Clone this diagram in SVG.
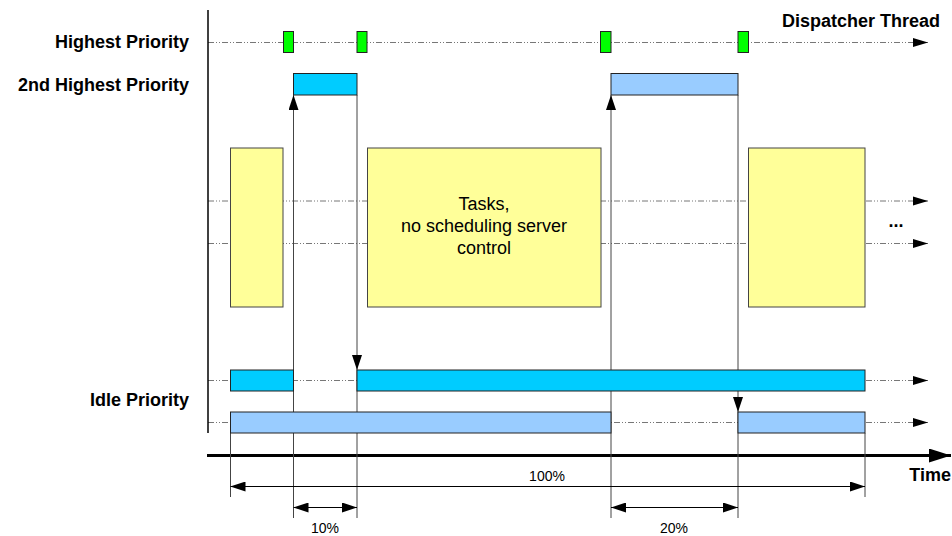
<svg xmlns="http://www.w3.org/2000/svg" width="952" height="536" viewBox="0 0 952 536">
<style>
.lbl{font-family:"Liberation Sans",Arial,sans-serif;font-weight:bold;font-size:18px;fill:#000}
.txt{font-family:"Liberation Sans",Arial,sans-serif;font-size:18px;fill:#000}
.pct{font-family:"Liberation Sans",Arial,sans-serif;font-size:14px;fill:#000}
.dd{stroke:#777;stroke-width:1;fill:none;stroke-dasharray:6,2,1,2,1,2}
.vl{stroke:#444;stroke-width:1;fill:none}
.dim{stroke:#000;stroke-width:1;fill:none}
.green{fill:#00FF00;stroke:#222;stroke-width:1}
.cyan{fill:#00CCFF;stroke:#222;stroke-width:1}
.lblue{fill:#99CCFF;stroke:#222;stroke-width:1}
.yel{fill:#FFFF99;stroke:#444;stroke-width:1}
</style>
<defs>
<marker id="ah" markerUnits="userSpaceOnUse" markerWidth="15" markerHeight="10" refX="15" refY="5" orient="auto-start-reverse"><path d="M0,0 L15,5 L0,10 z" fill="#000"/></marker>
<marker id="ahs" markerUnits="userSpaceOnUse" markerWidth="15" markerHeight="10" refX="15" refY="5" orient="auto-start-reverse"><path d="M0,0.5 L15,5 L0,9.5 z" fill="#000"/></marker>
<marker id="ahb" markerUnits="userSpaceOnUse" markerWidth="22" markerHeight="14" refX="22" refY="7" orient="auto"><path d="M0,0 L22,7 L0,14 z" fill="#000"/></marker>
</defs>

<g id="labels">
<text class="lbl" x="189" y="48" text-anchor="end">Highest Priority</text>
<text class="lbl" x="189" y="90.5" text-anchor="end">2nd Highest Priority</text>
<text class="lbl" x="189" y="406" text-anchor="end">Idle Priority</text>
<text class="lbl" x="940" y="26.5" text-anchor="end">Dispatcher Thread</text>
<text class="lbl" x="951" y="481" text-anchor="end">Time</text>
<text class="lbl" x="896" y="227" text-anchor="middle">...</text>
</g>

<g id="connectors">
<!-- priority lanes -->
<line class="dd" x1="208" y1="42.5" x2="928" y2="42.5" marker-end="url(#ahs)"/>
<line class="dd" x1="208" y1="201" x2="928" y2="201" marker-end="url(#ahs)"/>
<line class="dd" x1="208" y1="243.5" x2="928" y2="243.5" marker-end="url(#ahs)"/>
<line class="dd" x1="208" y1="380.5" x2="928" y2="380.5" marker-end="url(#ahs)"/>
<line class="dd" x1="208" y1="422.5" x2="928" y2="422.5" marker-end="url(#ahs)"/>
<!-- axes -->
<line x1="208" y1="10" x2="208" y2="433" stroke="#000" stroke-width="1.5"/>
<line x1="207" y1="455.5" x2="951" y2="455.5" stroke="#000" stroke-width="3" marker-end="url(#ahb)"/>
<!-- switching lines -->
<line class="vl" x1="293.5" y1="518" x2="293.5" y2="95" marker-end="url(#ah)"/>
<line class="vl" x1="357" y1="95" x2="357" y2="370" marker-end="url(#ah)"/>
<line class="vl" x1="357" y1="370" x2="357" y2="518"/>
<line class="vl" x1="611" y1="518" x2="611" y2="95" marker-end="url(#ah)"/>
<line class="vl" x1="738" y1="95" x2="738" y2="412" marker-end="url(#ah)"/>
<line class="vl" x1="738" y1="412" x2="738" y2="518"/>
<line class="vl" x1="230.5" y1="433" x2="230.5" y2="497"/>
<line class="vl" x1="865" y1="433" x2="865" y2="497"/>
<!-- dimensions -->
<line class="dim" x1="230.5" y1="486.5" x2="865" y2="486.5" marker-start="url(#ah)" marker-end="url(#ah)"/>
<line class="dim" x1="293.5" y1="507.5" x2="357" y2="507.5" marker-start="url(#ah)" marker-end="url(#ah)"/>
<line class="dim" x1="611" y1="507.5" x2="738" y2="507.5" marker-start="url(#ah)" marker-end="url(#ah)"/>
<text class="pct" x="547" y="481" text-anchor="middle">100%</text>
<text class="pct" x="325" y="533" text-anchor="middle">10%</text>
<text class="pct" x="674" y="533" text-anchor="middle">20%</text>
</g>

<g id="dispatcher1"><rect class="green" x="283.5" y="31.5" width="10" height="21"/></g>
<g id="dispatcher2"><rect class="green" x="357" y="31.5" width="10" height="21"/></g>
<g id="dispatcher3"><rect class="green" x="600.5" y="31.5" width="10.5" height="21"/></g>
<g id="dispatcher4"><rect class="green" x="738" y="31.5" width="10.5" height="21"/></g>

<g id="server1"><rect class="cyan" x="293.5" y="73.5" width="63.5" height="21.5"/></g>
<g id="server2"><rect class="lblue" x="611" y="73.5" width="127" height="21.5"/></g>

<g id="task1"><rect class="yel" x="230.5" y="148" width="52.5" height="159"/></g>
<g id="task2">
<rect class="yel" x="367.5" y="148" width="233.5" height="159"/>
<text class="txt" x="484" y="210" text-anchor="middle">Tasks,</text>
<text class="txt" x="484" y="232" text-anchor="middle">no scheduling server</text>
<text class="txt" x="484" y="253.5" text-anchor="middle">control</text>
</g>
<g id="task3"><rect class="yel" x="748.5" y="148" width="116.5" height="159"/></g>

<g id="idle1a"><rect class="cyan" x="230.5" y="370" width="63" height="21"/></g>
<g id="idle1b"><rect class="cyan" x="357" y="370" width="508" height="21"/></g>
<g id="idle2a"><rect class="lblue" x="230.5" y="412" width="380.5" height="21"/></g>
<g id="idle2b"><rect class="lblue" x="738" y="412" width="127" height="21"/></g>
</svg>
